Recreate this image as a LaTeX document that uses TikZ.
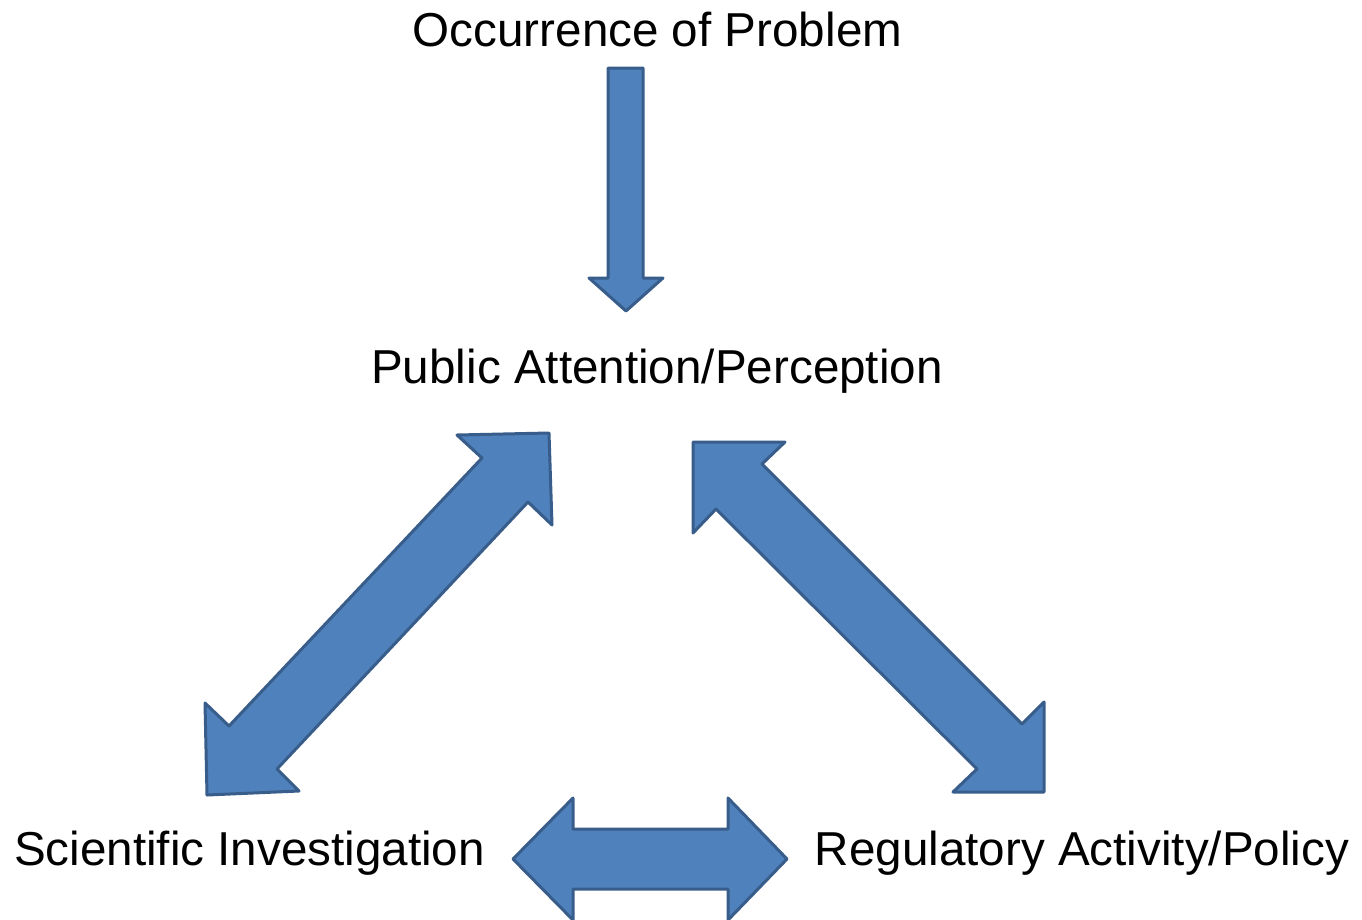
\documentclass[tikz,border=0pt]{standalone}
\usepackage{fontspec}
\setmainfont{Liberation Sans}
\definecolor{arrowfill}{HTML}{4F81BD}
\definecolor{arrowline}{HTML}{385D8A}
\begin{document}
\begin{tikzpicture}[x=1pt,y=-1pt,
  blockarrow/.style={fill=arrowfill,draw=arrowline,line width=3pt,line join=round},
  label/.style={anchor=base,inner sep=0pt,font=\fontsize{47.6}{57}\selectfont}]
\useasboundingbox (0,0) rectangle (1362,919);
\clip (0,0) rectangle (1362,919);
\node[label] (occ) at (657.5,46) {Occurrence of Problem};
\node[label] (pub) at (657,383) {Public Attention/Perception};
\node[label] (sci) at (249.5,865) {Scientific Investigation};
\node[label] (reg) at (1082,865) {Regulatory Activity/Policy};
% vertical arrow
\draw[blockarrow] (608,68) -- (643,68) -- (643,278) -- (663,278) -- (626,311) -- (589,278) -- (608,278) -- cycle;
% left diagonal double arrow
\draw[blockarrow] (549,433) -- (457,435) -- (482,458) -- (229,726) -- (205,703) -- (207,795) -- (299,791) -- (277,769) -- (528,502) -- (552,525) -- cycle;
% right diagonal double arrow
\draw[blockarrow] (693,442) -- (785,442) -- (762,464) -- (1022,724) -- (1044,702) -- (1044,792) -- (953,792) -- (977,769) -- (716,509) -- (693,533) -- cycle;
% horizontal double arrow
\draw[blockarrow] (513,859) -- (573,798) -- (573,829) -- (728,829) -- (728,798) -- (787,859) -- (728,920) -- (728,889) -- (573,889) -- (573,920) -- cycle;
\end{tikzpicture}
\end{document}
